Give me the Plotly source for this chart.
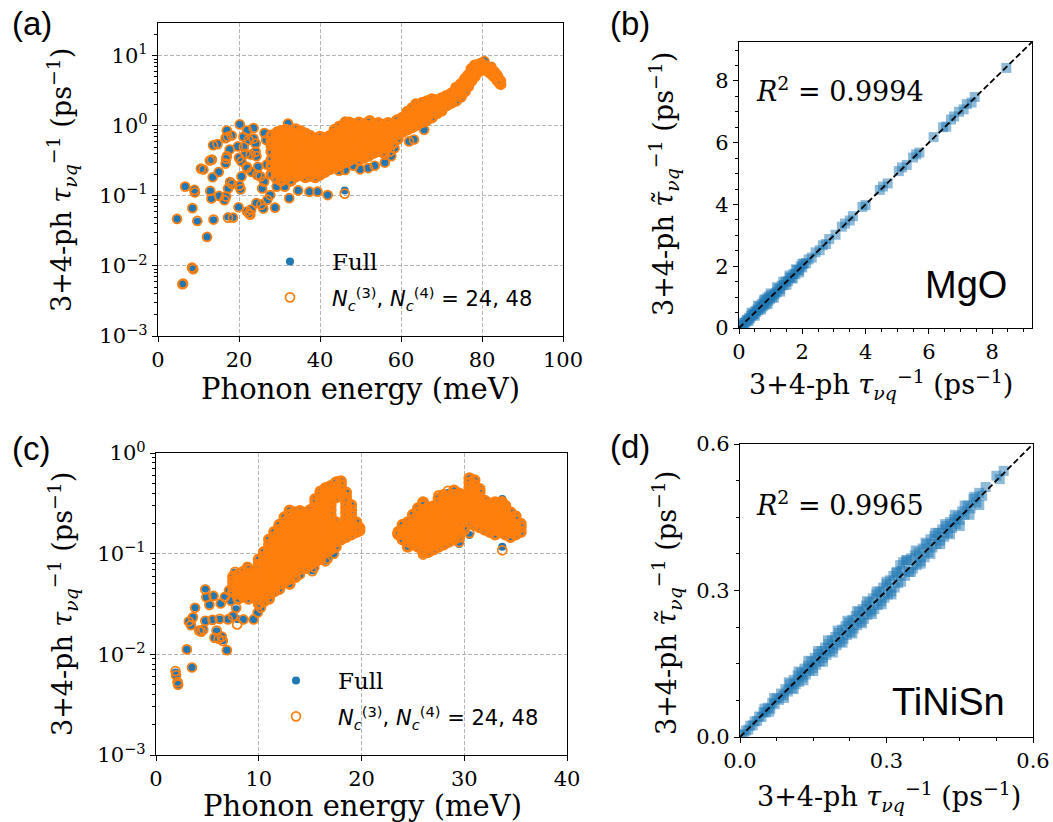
import plotly.graph_objects as go

W, H = 1053, 822
C_BLUE = "#1f77b4"
C_ORANGE = "#ff7f0e"

# ---------------- (a) MgO: 3+4-ph scattering rates vs phonon energy ----------------
# densely populated part of the spectrum: (energy in meV, rates in ps^-1 at that energy)
a_cloud = [
    (28.0, [0.205, 0.27, 0.33, 0.43, 0.53, 0.60, 0.73]),
    (29.2, [0.18, 0.22, 0.25, 0.30, 0.355, 0.40, 0.49, 0.55, 0.67, 0.77]),
    (30.4, [0.165, 0.20, 0.24, 0.27, 0.325, 0.37, 0.445, 0.515, 0.62, 0.71, 0.85]),
    (31.6, [0.18, 0.215, 0.26, 0.295, 0.35, 0.415, 0.475, 0.57, 0.65, 0.79, 0.88]),
    (32.8, [0.165, 0.20, 0.23, 0.28, 0.32, 0.38, 0.44, 0.52, 0.60, 0.73, 0.84]),
    (34.0, [0.19, 0.215, 0.255, 0.305, 0.345, 0.41, 0.485, 0.555, 0.66, 0.77, 0.90]),
    (35.2, [0.20, 0.235, 0.27, 0.325, 0.37, 0.445, 0.52, 0.615, 0.715, 0.84]),
    (36.4, [0.185, 0.22, 0.25, 0.30, 0.355, 0.41, 0.475, 0.565, 0.655, 0.78]),
    (37.6, [0.195, 0.235, 0.28, 0.32, 0.38, 0.44, 0.525, 0.60, 0.72]),
    (38.8, [0.185, 0.215, 0.26, 0.30, 0.35, 0.41, 0.48, 0.56, 0.655]),
    (40.0, [0.20, 0.24, 0.275, 0.325, 0.37, 0.44, 0.515, 0.61, 0.70]),
    (41.2, [0.22, 0.255, 0.30, 0.345, 0.41, 0.485, 0.56, 0.66]),
    (42.4, [0.24, 0.275, 0.325, 0.375, 0.44, 0.52, 0.615, 0.72]),
    (43.6, [0.26, 0.30, 0.35, 0.415, 0.48, 0.56, 0.66, 0.78, 0.88]),
    (44.8, [0.275, 0.325, 0.375, 0.44, 0.52, 0.61, 0.72, 0.84, 0.98]),
    (46.0, [0.30, 0.35, 0.41, 0.48, 0.565, 0.66, 0.78, 0.91, 1.06]),
    (47.2, [0.32, 0.375, 0.44, 0.52, 0.61, 0.72, 0.84, 0.98, 1.12]),
    (48.4, [0.35, 0.41, 0.48, 0.56, 0.66, 0.78, 0.91, 1.06]),
    (49.6, [0.325, 0.375, 0.445, 0.52, 0.61, 0.72, 0.845, 0.98, 1.12]),
    (50.8, [0.35, 0.41, 0.48, 0.56, 0.66, 0.78, 0.91, 1.06]),
    (52.0, [0.375, 0.44, 0.52, 0.61, 0.72, 0.84, 0.98, 1.14]),
    (53.2, [0.41, 0.48, 0.56, 0.66, 0.78, 0.91, 1.06]),
    (54.4, [0.44, 0.52, 0.61, 0.72, 0.84, 0.98, 1.10]),
    (55.6, [0.42, 0.48, 0.56, 0.66, 0.78, 0.91, 1.04]),
    (56.8, [0.52, 0.61, 0.72, 0.84, 0.98, 1.10]),
    (58.0, [0.56, 0.66, 0.78, 0.91, 1.06]),
    (59.2, [0.65, 0.76, 0.89, 1.04, 1.22]),
    (60.4, [0.82, 0.96, 1.13, 1.32]),
    (61.6, [0.89, 1.04, 1.22, 1.43, 1.60]),
    (62.8, [0.96, 1.13, 1.32, 1.55, 1.81]),
    (64.0, [1.04, 1.22, 1.43, 1.67, 1.95]),
    (65.2, [1.13, 1.32, 1.55, 1.81, 2.12]),
    (66.4, [1.22, 1.43, 1.67, 1.95, 2.25]),
    (67.6, [1.32, 1.55, 1.81, 2.12, 2.40]),
    (68.8, [1.50, 1.67, 1.95, 2.28]),
    (70.0, [1.65, 1.81, 2.12, 2.48]),
    (71.2, [1.95, 2.28, 2.67]),
    (72.4, [2.12, 2.48, 2.90]),
    (73.6, [2.28, 2.67, 3.12, 3.50]),
    (74.8, [2.60, 2.90, 3.39, 3.96]),
    (75.8, [3.12, 3.65, 4.27, 4.70]),
    (76.6, [3.70, 4.20, 4.63, 5.30]),
    (77.4, [4.40, 5.00, 5.85, 6.50]),
    (78.2, [5.10, 5.80, 6.60, 7.30]),
    (79.0, [5.90, 6.60, 7.40]),
    (79.8, [6.30, 7.00, 7.80]),
    (80.6, [6.60, 7.30]),
    (81.4, [6.10, 6.90]),
    (82.2, [5.60, 6.40]),
    (83.0, [5.10, 5.90]),
    (83.8, [4.50, 5.10]),
    (84.5, [4.00, 4.40]),
]
# isolated modes: energy, full calculation, truncated (N_c = 24, 48) calculation
a_sparse_energy = [4.7, 6.0, 6.2, 6.7, 8.4, 8.7, 8.5, 9.0, 9.1, 9.7,
                   10.6, 11.2, 12.1, 12.8, 13.3, 12.9, 13.2, 13.5, 13.7, 13.6,
                   14.7, 15.0, 15.1, 16.4, 16.8, 16.7, 16.8, 16.7, 17.0, 17.2,
                   17.0, 17.3, 17.3, 17.7, 17.8, 18.2, 18.5, 18.3, 19.7, 19.9,
                   20.0, 20.2, 20.1, 20.4, 20.6, 20.6, 21.2, 21.6, 21.1, 21.9,
                   22.0, 22.0, 22.0, 22.4, 22.5, 22.8, 22.9, 23.0, 23.1, 23.6,
                   23.6, 24.1, 24.1, 24.3, 24.5, 24.3, 24.7, 25.3, 25.5, 25.7,
                   26.0, 26.2, 26.3, 26.7, 26.9, 27.0, 27.7, 28.9, 29.3, 29.4,
                   31.3, 31.2, 32.1, 32.4, 34.6, 35.9, 37.4, 38.4, 39.4, 41.4,
                   41.9, 43.0, 44.7, 46.1, 46.2, 46.2, 48.3, 49.9, 51.9, 52.3,
                   53.5, 56.0, 57.6, 58.4, 58.8, 62.0, 62.0, 63.2, 63.6, 65.7,
                   68.5, 69.7, 74.2, 76.2, 78.2, 78.2, 80.6, 82.3, 83.6, 84.3,
                   84.7, 42.2, 41.0, 45.4, 43.8, 56.0, 57.2]
a_sparse_full = [0.047, 0.0054, 0.0056, 0.138, 0.0096, 0.0089, 0.067, 0.124, 0.110, 0.043,
                 0.245, 0.240, 0.026, 0.32, 0.325, 0.118, 0.092, 0.185, 0.045, 0.53,
                 0.555, 0.22, 0.10, 0.087, 0.098, 0.29, 0.34, 0.67, 0.87, 0.70,
                 0.37, 0.128, 0.051, 0.46, 0.158, 0.74, 0.050, 0.148, 0.51, 0.070,
                 0.35, 1.07, 0.14, 0.12, 0.19, 0.31, 0.50, 0.40, 0.70, 0.26,
                 0.87, 0.25, 0.060, 0.63, 0.056, 0.054, 0.39, 0.064, 0.22, 0.94,
                 0.66, 0.56, 0.43, 0.37, 0.20, 0.080, 0.26, 0.19, 0.075, 0.128,
                 0.066, 0.16, 0.79, 0.63, 0.28, 0.088, 0.103, 0.068, 0.136, 0.83,
                 0.136, 0.83, 1.10, 0.093, 0.12, 0.72, 0.115, 0.57, 0.115, 0.68,
                 0.103, 0.75, 0.23, 0.120, 1.15, 0.235, 0.27, 0.24, 0.25, 1.20,
                 0.27, 0.30, 0.37, 0.48, 1.20, 0.60, 1.35, 0.64, 2.08, 0.88,
                 2.37, 2.30, 3.6, 4.5, 5.8, 7.3, 8.6, 7.0, 5.5, 4.2,
                 3.9, 0.24, 0.25, 0.30, 0.25, 0.39, 0.43]
a_sparse_cut = [0.047, 0.0055, 0.0056, 0.136, 0.0095, 0.0090, 0.067, 0.122, 0.112, 0.044,
                0.245, 0.238, 0.026, 0.32, 0.33, 0.118, 0.092, 0.185, 0.046, 0.53,
                0.55, 0.22, 0.10, 0.087, 0.098, 0.29, 0.34, 0.67, 0.86, 0.70,
                0.37, 0.128, 0.049, 0.46, 0.158, 0.73, 0.049, 0.148, 0.51, 0.069,
                0.35, 1.05, 0.14, 0.125, 0.19, 0.31, 0.50, 0.40, 0.70, 0.26,
                0.86, 0.25, 0.060, 0.63, 0.056, 0.054, 0.39, 0.064, 0.22, 0.93,
                0.66, 0.56, 0.43, 0.37, 0.20, 0.079, 0.26, 0.19, 0.075, 0.128,
                0.066, 0.16, 0.79, 0.63, 0.28, 0.088, 0.103, 0.068, 0.136, 0.83,
                0.136, 0.83, 1.08, 0.093, 0.12, 0.72, 0.115, 0.57, 0.115, 0.68,
                0.103, 0.75, 0.23, 0.108, 1.15, 0.235, 0.27, 0.24, 0.25, 1.20,
                0.27, 0.30, 0.37, 0.48, 1.20, 0.60, 1.35, 0.64, 2.08, 0.88,
                2.37, 2.30, 3.6, 4.5, 5.8, 7.3, 8.4, 7.0, 5.5, 4.2,
                3.9, 0.24, 0.25, 0.30, 0.25, 0.39, 0.43]

# ---------------- (b) MgO parity: full vs approximated rates ----------------
b_full = [0.02, 0.05, 0.08, 0.12, 0.15, 0.18, 0.22, 0.25, 0.28, 0.32, 0.35, 0.38, 0.42, 0.45,
          0.48, 0.52, 0.55, 0.58, 0.62, 0.65, 0.68, 0.72, 0.75, 0.78, 0.80, 0.84, 0.86, 0.90,
          0.92, 0.95, 0.98, 1.02, 1.05, 1.10, 1.15, 1.20, 1.25, 1.30, 1.35, 1.42, 1.48, 1.55,
          1.60, 1.66, 1.72, 1.78, 1.84, 1.90, 1.95, 2.00, 2.05, 2.12, 2.20, 2.30, 2.42, 2.55,
          2.65, 2.75, 2.85, 3.05, 3.25, 3.35, 3.50, 3.60, 3.90, 4.00, 4.45, 4.55, 4.70, 5.05,
          5.15, 5.30, 5.50, 5.60, 5.70, 6.15, 6.45, 6.55, 6.70, 6.80, 6.95, 7.10, 7.20, 7.35,
          7.45, 8.45,
          0.30, 0.40, 0.50, 0.60, 0.70, 0.80, 0.90, 1.00, 1.10, 1.20, 1.30, 1.40, 1.50, 1.60,
          1.70, 1.80, 1.90, 2.00]
b_approx = [0.03, 0.04, 0.10, 0.10, 0.17, 0.16, 0.21, 0.27, 0.26, 0.33, 0.31, 0.40, 0.40, 0.46,
            0.45, 0.55, 0.52, 0.60, 0.58, 0.70, 0.65, 0.78, 0.70, 0.85, 0.74, 0.92, 0.80, 0.98,
            0.88, 1.02, 0.93, 1.06, 0.99, 1.08, 1.12, 1.17, 1.28, 1.26, 1.37, 1.40, 1.50, 1.52,
            1.64, 1.62, 1.75, 1.74, 1.88, 1.87, 2.00, 1.96, 2.08, 2.10, 2.22, 2.28, 2.45, 2.52,
            2.68, 2.72, 2.88, 3.02, 3.28, 3.38, 3.48, 3.62, 3.92, 3.98, 4.47, 4.58, 4.68, 5.08,
            5.20, 5.28, 5.52, 5.62, 5.68, 6.18, 6.50, 6.52, 6.75, 6.85, 7.00, 7.08, 7.25, 7.30,
            7.48, 8.42,
            0.22, 0.50, 0.40, 0.72, 0.60, 0.92, 0.78, 1.12, 0.98, 1.32, 1.18, 1.50, 1.40, 1.70,
            1.60, 1.90, 1.80, 2.08]
b_r2 = "0.9994"
b_lim = 9.26

# ---------------- (c) TiNiSn: 3+4-ph scattering rates vs phonon energy ----------------
c_cloud = [
    (7.5, [0.042, 0.047, 0.053, 0.059]),
    (8.0, [0.0356, 0.040, 0.0445, 0.050, 0.056, 0.062]),
    (8.5, [0.0376, 0.042, 0.047, 0.053, 0.059, 0.066]),
    (9.0, [0.0356, 0.040, 0.0445, 0.050, 0.056, 0.062, 0.070]),
    (9.5, [0.0376, 0.042, 0.047, 0.053, 0.059]),
    (10.0, [0.0318, 0.0356, 0.040, 0.0445, 0.050, 0.056, 0.062, 0.070, 0.078, 0.088]),
    (10.5, [0.0336, 0.0376, 0.042, 0.047, 0.053, 0.059, 0.066, 0.074, 0.083, 0.093, 0.104]),
    (11.0, [0.0356, 0.040, 0.0445, 0.050, 0.056, 0.062, 0.070, 0.078, 0.088, 0.098, 0.110,
            0.123, 0.138]),
    (11.5, [0.042, 0.047, 0.053, 0.059, 0.066, 0.074, 0.083, 0.093, 0.104, 0.117, 0.131,
            0.146, 0.164]),
    (12.0, [0.0445, 0.050, 0.056, 0.062, 0.070, 0.078, 0.088, 0.098, 0.110, 0.123, 0.138,
            0.155, 0.173, 0.194]),
    (12.5, [0.053, 0.059, 0.066, 0.074, 0.083, 0.093, 0.104, 0.117, 0.131, 0.146, 0.164,
            0.183, 0.205, 0.23]),
    (13.0, [0.050, 0.056, 0.062, 0.070, 0.078, 0.088, 0.098, 0.110, 0.123, 0.138, 0.155,
            0.173, 0.194, 0.217, 0.243, 0.268]),
    (13.5, [0.059, 0.066, 0.074, 0.083, 0.093, 0.104, 0.117, 0.131, 0.146, 0.164, 0.183,
            0.205, 0.23, 0.258]),
    (14.0, [0.070, 0.078, 0.088, 0.098, 0.110, 0.123, 0.138, 0.155, 0.173, 0.194, 0.217,
            0.243, 0.265]),
    (14.5, [0.074, 0.083, 0.093, 0.104, 0.117, 0.131, 0.146, 0.164, 0.183, 0.205, 0.23, 0.255]),
    (15.0, [0.078, 0.088, 0.098, 0.110, 0.123, 0.138, 0.155, 0.173, 0.194, 0.217, 0.243, 0.272]),
    (15.5, [0.083, 0.093, 0.104, 0.117, 0.131, 0.146, 0.164, 0.183, 0.205, 0.23, 0.258,
            0.289, 0.323, 0.35]),
    (16.0, [0.088, 0.098, 0.110, 0.123, 0.138, 0.155, 0.173, 0.194, 0.217, 0.243, 0.272,
            0.305, 0.342, 0.383, 0.415]),
    (16.5, [0.104, 0.117, 0.131, 0.146, 0.164, 0.183, 0.205, 0.23, 0.258, 0.289, 0.323,
            0.362, 0.405, 0.45]),
    (17.0, [0.110, 0.123, 0.138, 0.155, 0.173, 0.194, 0.217, 0.243, 0.272, 0.305, 0.342,
            0.383, 0.429, 0.47]),
    (17.5, [0.117, 0.131, 0.146, 0.164, 0.183, 0.205, 0.362, 0.405, 0.454, 0.508]),
    (18.0, [0.138, 0.155, 0.173, 0.194, 0.383, 0.429, 0.48, 0.525]),
    (18.5, [0.146, 0.164, 0.183, 0.205, 0.23, 0.258, 0.289, 0.323, 0.362, 0.405]),
    (19.0, [0.155, 0.173, 0.194, 0.217, 0.243, 0.272, 0.305]),
    (19.5, [0.164, 0.183, 0.205]),
    (19.8, [0.17, 0.18]),
    (23.6, [0.155, 0.165]),
    (24.0, [0.138, 0.155, 0.173, 0.194]),
    (24.5, [0.117, 0.131, 0.146, 0.164, 0.183, 0.205]),
    (25.0, [0.123, 0.138, 0.155, 0.173, 0.194, 0.217, 0.243]),
    (25.5, [0.117, 0.131, 0.146, 0.164, 0.183, 0.205, 0.23, 0.258, 0.282]),
    (26.0, [0.104, 0.110, 0.123, 0.138, 0.155, 0.173, 0.194, 0.217, 0.243, 0.272, 0.305, 0.325]),
    (26.5, [0.104, 0.117, 0.131, 0.146, 0.164, 0.183, 0.205, 0.23, 0.258, 0.289]),
    (27.0, [0.110, 0.123, 0.138, 0.155, 0.173, 0.194, 0.217, 0.243, 0.272, 0.295]),
    (27.5, [0.117, 0.131, 0.146, 0.164, 0.183, 0.205, 0.23, 0.258, 0.289, 0.323, 0.355]),
    (28.0, [0.123, 0.138, 0.155, 0.173, 0.194, 0.217, 0.243, 0.272, 0.305, 0.342, 0.383]),
    (28.5, [0.131, 0.146, 0.164, 0.183, 0.205, 0.23, 0.258, 0.289, 0.323, 0.355]),
    (29.0, [0.138, 0.155, 0.173, 0.194, 0.217, 0.243, 0.272, 0.305, 0.342, 0.383, 0.425]),
    (29.5, [0.146, 0.164, 0.183, 0.205, 0.23, 0.258, 0.289, 0.323, 0.362, 0.395]),
    (30.0, [0.173, 0.217, 0.243, 0.272, 0.305, 0.342, 0.383]),
    (30.5, [0.205, 0.23, 0.258, 0.289, 0.323, 0.362, 0.405, 0.454, 0.508, 0.56]),
    (31.0, [0.194, 0.217, 0.243, 0.272, 0.305, 0.342, 0.383, 0.429, 0.48, 0.535]),
    (31.5, [0.183, 0.205, 0.23, 0.258, 0.289, 0.323, 0.362, 0.405, 0.44]),
    (32.0, [0.173, 0.194, 0.217, 0.243, 0.272, 0.305, 0.335]),
    (32.5, [0.164, 0.183, 0.205, 0.23, 0.258, 0.289, 0.315]),
    (33.0, [0.155, 0.173, 0.194, 0.217, 0.243, 0.272, 0.305, 0.325]),
    (33.5, [0.164, 0.183, 0.205, 0.23, 0.258, 0.289, 0.323]),
    (34.0, [0.155, 0.173, 0.194, 0.217, 0.243, 0.272, 0.30]),
    (34.5, [0.146, 0.164, 0.183, 0.205, 0.23, 0.258]),
    (35.0, [0.155, 0.173, 0.194, 0.217, 0.235]),
    (35.5, [0.164, 0.183, 0.198]),
]
c_sparse_energy = [1.9, 1.95, 2.1, 2.15, 3.0, 3.5, 3.2, 3.6, 3.8, 3.4,
                   4.2, 4.4, 4.8, 4.6, 4.8, 4.9, 5.2, 5.6, 5.5, 5.7,
                   5.9, 6.1, 6.4, 6.5, 6.9, 6.3, 6.7, 6.2, 7.0, 7.1,
                   7.3, 7.8, 7.5, 7.9, 8.5, 8.9, 8.4, 8.7, 9.5, 9.9,
                   10.2, 7.7, 9.3, 13.6, 14.0, 15.2, 15.4, 16.5, 16.7, 17.3,
                   14.6, 16.0, 19.7, 17.6, 16.6, 16.3, 29.5, 30.5, 30.3, 33.7,
                   33.7, 33.8, 26.0, 27.5, 28.4, 28.0, 16.8, 15.6, 16.5, 23.5]
c_sparse_full = [0.0066, 0.0060, 0.0052, 0.0049, 0.0112, 0.0074, 0.0214, 0.0235, 0.0294, 0.0195,
                 0.0174, 0.0168, 0.0214, 0.0176, 0.045, 0.037, 0.031, 0.038, 0.022, 0.0146,
                 0.0170, 0.0145, 0.0150, 0.0138, 0.0110, 0.032, 0.038, 0.0222, 0.0225, 0.043,
                 0.034, 0.028, 0.024, 0.0225, 0.0222, 0.075, 0.058, 0.040, 0.0222, 0.026,
                 0.029, 0.065, 0.068, 0.058, 0.062, 0.068, 0.072, 0.085, 0.090, 0.100,
                 0.070, 0.090, 0.165, 0.53, 0.45, 0.40, 0.125, 0.153, 0.20, 0.117,
                 0.35, 0.33, 0.100, 0.37, 0.40, 0.395, 0.110, 0.093, 0.140, 0.155]
c_sparse_cut = [0.0068, 0.0062, 0.0053, 0.0050, 0.0112, 0.0074, 0.0212, 0.0233, 0.0290, 0.0195,
                0.0172, 0.0168, 0.0215, 0.0176, 0.044, 0.037, 0.031, 0.038, 0.022, 0.0146,
                0.0172, 0.0143, 0.0150, 0.0136, 0.0110, 0.032, 0.037, 0.0225, 0.0222, 0.043,
                0.034, 0.029, 0.024, 0.0198, 0.0222, 0.074, 0.058, 0.040, 0.0222, 0.026,
                0.029, 0.066, 0.066, 0.058, 0.062, 0.067, 0.073, 0.084, 0.089, 0.100,
                0.071, 0.092, 0.170, 0.52, 0.43, 0.38, 0.130, 0.160, 0.21, 0.108,
                0.33, 0.31, 0.098, 0.38, 0.42, 0.37, 0.112, 0.092, 0.138, 0.158]

# ---------------- (d) TiNiSn parity: full vs approximated rates ----------------
d_full = [0.003, 0.008, 0.012, 0.017, 0.021, 0.026, 0.030, 0.035, 0.039, 0.044, 0.048, 0.053,
          0.057, 0.062, 0.066, 0.071, 0.075, 0.080, 0.084, 0.089, 0.093, 0.098, 0.102, 0.106,
          0.110, 0.114, 0.118, 0.121, 0.125, 0.128, 0.132, 0.135, 0.139, 0.142, 0.146, 0.149,
          0.153, 0.156, 0.160, 0.163, 0.167, 0.170, 0.174, 0.177, 0.181, 0.184, 0.188, 0.191,
          0.195, 0.198, 0.202, 0.205, 0.209, 0.212, 0.216, 0.219, 0.223, 0.226, 0.230, 0.233,
          0.237, 0.240, 0.244, 0.247, 0.251, 0.254, 0.258, 0.261, 0.265, 0.268, 0.272, 0.275,
          0.279, 0.282, 0.286, 0.289, 0.293, 0.296, 0.300, 0.303, 0.307, 0.310, 0.314, 0.317,
          0.321, 0.324, 0.328, 0.331, 0.334, 0.338, 0.342, 0.346, 0.350, 0.354, 0.358, 0.362,
          0.366, 0.370, 0.374, 0.378, 0.382, 0.386, 0.390, 0.394, 0.398, 0.402, 0.406, 0.410,
          0.414, 0.418, 0.422, 0.426, 0.430, 0.434, 0.438, 0.442, 0.446, 0.450, 0.455, 0.460,
          0.466, 0.472, 0.478, 0.484, 0.490, 0.496, 0.503, 0.525, 0.540, 0.532,
          0.05, 0.06, 0.07, 0.09, 0.10, 0.11, 0.12, 0.13, 0.14, 0.15, 0.16, 0.17, 0.18, 0.19,
          0.20, 0.21, 0.22, 0.23, 0.24, 0.25, 0.26, 0.27, 0.28, 0.29, 0.30, 0.31, 0.32, 0.33,
          0.34, 0.35, 0.36, 0.37, 0.38, 0.39, 0.40, 0.41, 0.42, 0.43, 0.44, 0.45, 0.46, 0.47,
          0.48, 0.49]
d_approx = [0.004, 0.006, 0.013, 0.015, 0.023, 0.024, 0.032, 0.033, 0.042, 0.041, 0.051, 0.050,
            0.060, 0.058, 0.070, 0.067, 0.079, 0.076, 0.089, 0.085, 0.098, 0.093, 0.108, 0.100,
            0.117, 0.108, 0.126, 0.113, 0.132, 0.122, 0.140, 0.128, 0.146, 0.136, 0.155, 0.141,
            0.162, 0.148, 0.170, 0.155, 0.176, 0.162, 0.183, 0.168, 0.190, 0.176, 0.198, 0.181,
            0.205, 0.188, 0.213, 0.195, 0.220, 0.201, 0.227, 0.209, 0.234, 0.215, 0.240, 0.222,
            0.248, 0.229, 0.256, 0.236, 0.262, 0.242, 0.269, 0.250, 0.276, 0.257, 0.284, 0.262,
            0.292, 0.270, 0.298, 0.278, 0.306, 0.285, 0.313, 0.292, 0.321, 0.298, 0.330, 0.306,
            0.338, 0.315, 0.352, 0.340, 0.358, 0.330, 0.362, 0.338, 0.366, 0.345, 0.372, 0.352,
            0.378, 0.360, 0.386, 0.368, 0.395, 0.378, 0.405, 0.388, 0.412, 0.395, 0.418, 0.402,
            0.425, 0.410, 0.432, 0.418, 0.440, 0.428, 0.446, 0.436, 0.452, 0.444, 0.462, 0.455,
            0.474, 0.468, 0.488, 0.480, 0.500, 0.494, 0.512, 0.535, 0.545, 0.528,
            0.058, 0.052, 0.080, 0.080, 0.112, 0.098, 0.134, 0.116, 0.156, 0.135, 0.176, 0.154,
            0.198, 0.173, 0.218, 0.193, 0.238, 0.212, 0.258, 0.233, 0.278, 0.252, 0.298, 0.272,
            0.318, 0.292, 0.336, 0.318, 0.362, 0.338, 0.382, 0.355, 0.398, 0.375, 0.418, 0.395,
            0.436, 0.415, 0.455, 0.432, 0.474, 0.455, 0.492, 0.475]
d_r2 = "0.9965"
d_lim = 0.6


def unpack(cols):
    """Flatten (energy, [rates]) columns into two parallel lists."""
    e, t = [], []
    for x, ys in cols:
        e.extend([x] * len(ys))
        t.extend(ys)
    return e, t


a_cloud_e, a_cloud_t = unpack(a_cloud)
c_cloud_e, c_cloud_t = unpack(c_cloud)

NB = "\u00a0"
LEG_FULL = NB * 3 + "<span style='font-family:DejaVu Serif'>Full</span>"
LEG_CUT = (NB * 3 + "<span style='font-family:DejaVu Sans;font-size:21px'>"
           "<i>N</i><sub><i>c</i></sub><sup>(3)</sup>, "
           "<i>N</i><sub><i>c</i></sub><sup>(4)</sup> = 24, 48</span>")

fig = go.Figure()


def rate_traces(cloud_e, cloud_t, sp_e, sp_full, sp_cut, xa, ya, legend):
    # full calculation: filled blue dots
    fig.add_trace(go.Scatter(
        x=cloud_e + sp_e, y=cloud_t + sp_full, mode="markers", name=LEG_FULL,
        xaxis=xa, yaxis=ya, legend=legend, legendgroup=legend + "f",
        marker=dict(symbol="circle", size=8, color=C_BLUE, line=dict(width=0))))
    # truncated calculation: open orange rings (heavier stroke where modes pile up)
    fig.add_trace(go.Scatter(
        x=cloud_e, y=cloud_t, mode="markers", xaxis=xa, yaxis=ya, showlegend=False,
        marker=dict(symbol="circle-open", size=9, color=C_ORANGE, line=dict(width=3))))
    fig.add_trace(go.Scatter(
        x=sp_e, y=sp_cut, mode="markers", name=LEG_CUT, xaxis=xa, yaxis=ya,
        legend=legend, legendgroup=legend + "c",
        marker=dict(symbol="circle-open", size=9, color=C_ORANGE, line=dict(width=1.7))))


rate_traces(a_cloud_e, a_cloud_t, a_sparse_energy, a_sparse_full, a_sparse_cut, "x", "y", "legend")
rate_traces(c_cloud_e, c_cloud_t, c_sparse_energy, c_sparse_full, c_sparse_cut, "x3", "y3", "legend2")


def parity_traces(xs, ys, lim, xa, ya):
    fig.add_trace(go.Scatter(
        x=xs, y=ys, mode="markers", xaxis=xa, yaxis=ya, showlegend=False,
        marker=dict(symbol="square", size=10, color=C_BLUE, opacity=0.5, line=dict(width=0))))
    fig.add_trace(go.Scatter(
        x=[0, lim], y=[0, lim], mode="lines", xaxis=xa, yaxis=ya, showlegend=False,
        line=dict(color="black", width=1.8, dash="6px,3px")))


parity_traces(b_full, b_approx, b_lim, "x2", "y2")
parity_traces(d_full, d_approx, d_lim, "x4", "y4")


def px_x(px):
    return px / W


def px_y(py):
    return 1 - py / H


TICKFONT = dict(family="DejaVu Serif", size=21, color="black")
base_axis = dict(showline=True, linecolor="black", linewidth=1.2, mirror=True,
                 ticks="outside", ticklen=5, tickwidth=1.2, tickcolor="black",
                 tickfont=TICKFONT, zeroline=False, showgrid=False, automargin=False)
grid = dict(showgrid=True, gridcolor="#b4b4b4", gridwidth=1, griddash="4px,2px")

decades = [1e-3, 1e-2, 1e-1, 1e0, 1e1]
decade_text = ["10<sup>−3</sup>", "10<sup>−2</sup>", "10<sup>−1</sup>", "10<sup>0</sup>", "10<sup>1</sup>"]
log_minor = [m * d for d in [1e-3, 1e-2, 1e-1, 1e0, 1e1] for m in range(2, 10)]

fig.update_layout(
    width=W, height=H, autosize=False,
    margin=dict(l=0, r=0, t=0, b=0, pad=0, autoexpand=False),
    paper_bgcolor="white", plot_bgcolor="white",
    font=dict(family="DejaVu Serif", color="black"),
    xaxis=dict(base_axis, **grid, domain=[px_x(158), px_x(563)], range=[0, 100],
               tickvals=[0, 20, 40, 60, 80, 100], anchor="y"),
    yaxis=dict(base_axis, **grid, domain=[px_y(336), px_y(23)], type="log", range=[-3, 1.47],
               tickvals=decades, ticktext=decade_text, anchor="x",
               minor=dict(tickvals=log_minor, ticks="outside", ticklen=3, tickcolor="black",
                          showgrid=False)),
    xaxis2=dict(base_axis, domain=[px_x(739), px_x(1032)], range=[0, b_lim],
                tickvals=[0, 2, 4, 6, 8], anchor="y2",
                minor=dict(dtick=0.5, ticks="outside", ticklen=3, tickcolor="black")),
    yaxis2=dict(base_axis, domain=[px_y(328), px_y(42)], range=[0, b_lim],
                tickvals=[0, 2, 4, 6, 8], anchor="x2",
                minor=dict(dtick=0.5, ticks="outside", ticklen=3, tickcolor="black")),
    xaxis3=dict(base_axis, **grid, domain=[px_x(156), px_x(567)], range=[0, 40],
                tickvals=[0, 10, 20, 30, 40], anchor="y3"),
    yaxis3=dict(base_axis, **grid, domain=[px_y(755), px_y(453)], type="log", range=[-3, 0],
                tickvals=decades[:4], ticktext=decade_text[:4], anchor="x3",
                minor=dict(tickvals=[v for v in log_minor if v < 1], ticks="outside", ticklen=3,
                           tickcolor="black", showgrid=False)),
    xaxis4=dict(base_axis, domain=[px_x(740), px_x(1033)], range=[0, d_lim],
                tickvals=[0, 0.3, 0.6], ticktext=["0.0", "0.3", "0.6"], anchor="y4",
                minor=dict(dtick=0.075, ticks="outside", ticklen=3, tickcolor="black")),
    yaxis4=dict(base_axis, domain=[px_y(737), px_y(444)], range=[0, d_lim],
                tickvals=[0, 0.3, 0.6], ticktext=["0.0", "0.3", "0.6"], anchor="x4",
                minor=dict(dtick=0.075, ticks="outside", ticklen=3, tickcolor="black")),
    legend=dict(x=px_x(270), y=px_y(240), xanchor="left", yanchor="top",
                bgcolor="rgba(0,0,0,0)", borderwidth=0, traceorder="grouped",
                tracegroupgap=3, font=dict(family="DejaVu Serif", size=23, color="black")),
    legend2=dict(x=px_x(276), y=px_y(659), xanchor="left", yanchor="top",
                 bgcolor="rgba(0,0,0,0)", borderwidth=0, traceorder="grouped",
                 tracegroupgap=3, font=dict(family="DejaVu Serif", size=23, color="black")),
)

TAU = "<i>τ</i><sub><i>νq</i></sub><sup>−1</sup>"
TAU_T = "<i>τ̃</i><sub><i>νq</i></sub><sup>−1</sup>"
TITLE_FONT = dict(family="DejaVu Serif", size=27, color="black")
XTITLE_FONT = dict(family="DejaVu Serif", size=29, color="black")
R2_FONT = dict(family="DejaVu Serif", size=27, color="black")
LETTER_FONT = dict(family="Liberation Sans, Arial", size=33, color="black")
LABEL_FONT = dict(family="Liberation Sans, Arial", size=38, color="black")

# (text, x px, y px, x anchor, angle, font)
notes = [
    ("(a)", 10, 24, "left", 0, LETTER_FONT),
    ("(b)", 608, 24, "left", 0, LETTER_FONT),
    ("(c)", 10, 448, "left", 0, LETTER_FONT),
    ("(d)", 608, 447, "left", 0, LETTER_FONT),
    ("3+4-ph " + TAU + " (ps<sup>−1</sup>)", 62, 180, "center", -90, TITLE_FONT),
    ("Phonon energy (meV)", 360, 389, "center", 0, XTITLE_FONT),
    ("3+4-ph " + TAU_T + " (ps<sup>−1</sup>)", 664, 184, "center", -90, TITLE_FONT),
    ("3+4-ph " + TAU + " (ps<sup>−1</sup>)", 881, 385, "center", 0, TITLE_FONT),
    ("3+4-ph " + TAU + " (ps<sup>−1</sup>)", 62, 604, "center", -90, TITLE_FONT),
    ("Phonon energy (meV)", 362, 806, "center", 0, XTITLE_FONT),
    ("3+4-ph " + TAU_T + " (ps<sup>−1</sup>)", 666, 603, "center", -90, TITLE_FONT),
    ("3+4-ph " + TAU + " (ps<sup>−1</sup>)", 889, 796, "center", 0, TITLE_FONT),
    ("<i>R</i><sup>2</sup> = " + b_r2, 840, 90, "center", 0, R2_FONT),
    ("<i>R</i><sup>2</sup> = " + d_r2, 840, 503, "center", 0, R2_FONT),
    ("MgO", 966, 285, "center", 0, LABEL_FONT),
    ("TiNiSn", 948, 702, "center", 0, LABEL_FONT),
]
for text, px, py, xanc, ang, font in notes:
    fig.add_annotation(text=text, x=px_x(px), y=px_y(py), xref="paper", yref="paper",
                       xanchor=xanc, yanchor="middle", textangle=ang, showarrow=False,
                       font=font)

fig.write_html("out.html")
